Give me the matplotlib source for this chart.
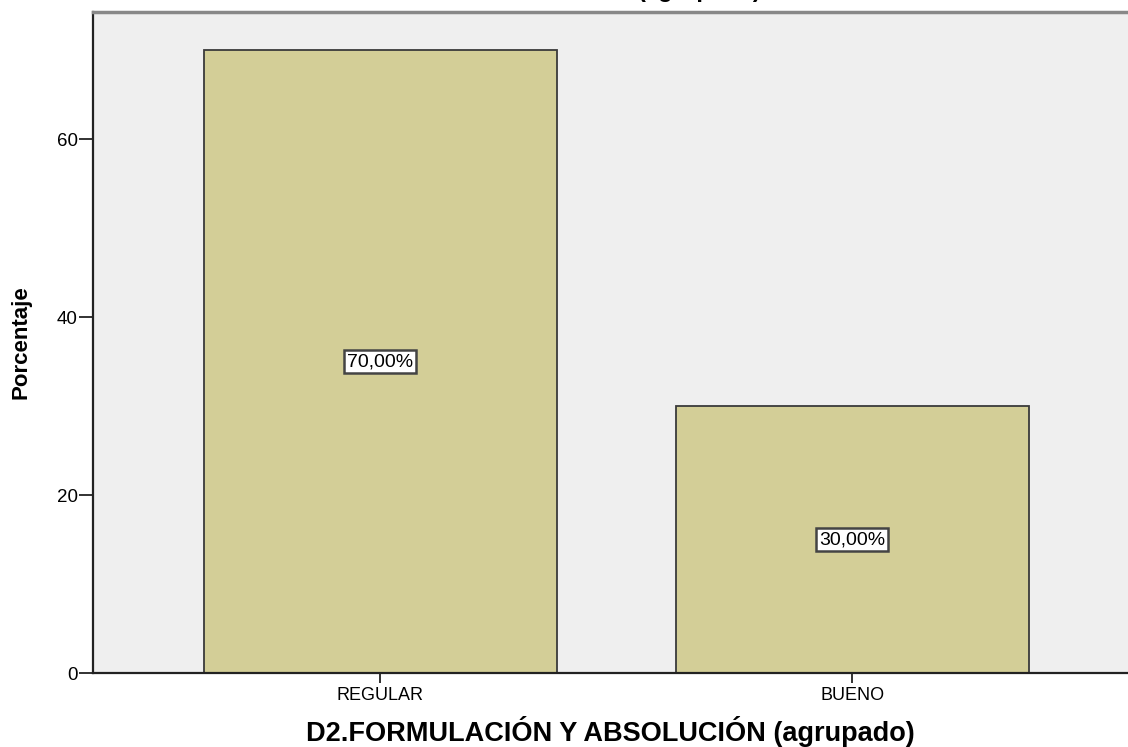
import matplotlib
matplotlib.use("Agg")
import matplotlib.pyplot as plt

categories = ["REGULAR", "BUENO"]
values = [70.0, 30.0]
labels = ["70,00%", "30,00%"]
yticks = [0, 20, 40, 60]

plt.rcParams["font.family"] = ["Liberation Sans", "DejaVu Sans"]

W, H = 1128, 747
fig = plt.figure(figsize=(W/100, H/100), dpi=100)
fig.patch.set_facecolor("white")
L, R, B, T = 93, 1128, 673, 12
ax = fig.add_axes([L/W, 1 - B/H, (R-L)/W, (B-T)/H])
ax.set_facecolor("#EFEFEF")

x = list(range(len(categories)))
ax.bar(x, values, width=0.748, color="#D3CE97", edgecolor="#3A3A3A", linewidth=1.3, zorder=2)
for xi, v, lab in zip(x, values, labels):
    ax.text(xi, v/2, lab, ha="center", va="center", fontsize=14,
            bbox=dict(boxstyle="square,pad=0.15", facecolor="white", edgecolor="#444444", linewidth=1.8), zorder=3)

ax.set_xlim(-0.609, 1.584)
ax.set_ylim(0, 74.3)
ax.set_xticks(x)
ax.set_xticklabels(categories, fontsize=13)
ax.set_yticks(yticks)
ax.set_yticklabels([str(t) for t in yticks], fontsize=13.5)
ax.tick_params(axis="y", direction="out", length=10, width=1.3, color="#222222", pad=1)
ax.tick_params(axis="x", direction="out", length=7, width=1.3, color="#222222", pad=3)

for s in ["left", "bottom"]:
    ax.spines[s].set_color("#222222")
    ax.spines[s].set_linewidth(1.6)
ax.spines["top"].set_color("#888888")
ax.spines["top"].set_linewidth(2.5)
ax.spines["right"].set_visible(False)

ax.set_ylabel("Porcentaje", fontsize=16, fontweight="bold", labelpad=18)
ax.set_xlabel("D2.FORMULACIÓN Y ABSOLUCIÓN (agrupado)", fontsize=19.5, fontweight="bold", labelpad=9)

fig.text(700/W, 1 + 3/H, "(agrupado)", ha="center", va="baseline", fontsize=17, fontweight="bold")

fig.savefig("out.png", dpi=100)
